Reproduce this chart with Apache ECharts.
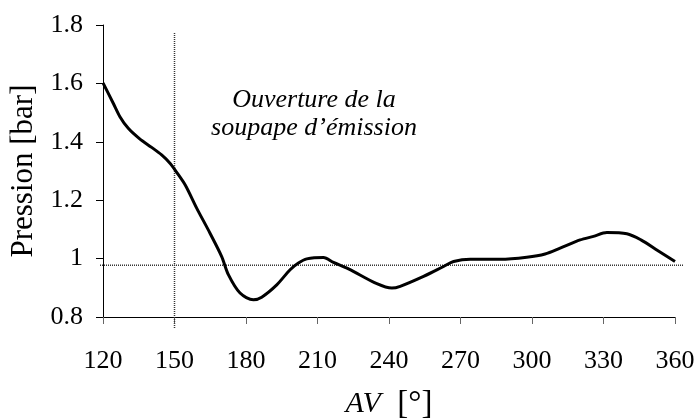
<!DOCTYPE html>
<html>
<head>
<meta charset="utf-8">
<script src="https://cdn.jsdelivr.net/npm/echarts@6/dist/echarts.min.js"></script>
<style>html,body{margin:0;padding:0;background:#fff;}#c{width:697px;height:419px;}</style>
</head>
<body>
<div id="c"></div>
<script>
// Crank angle AV [°]
var angles = [120,124.3,127.1,130.6,135.4,140.4,144.6,148.2,150.7,154.5,159.3,164.9,169.8,172.6,177.5,183.1,186.6,192.9,198.5,202.0,205.5,212.5,216.7,223.0,234.9,241.2,244.7,254.5,262.9,267.1,274.1,286.7,297.8,305.5,311.8,320.2,325.8,331.4,339.8,345.7,352.7,360];
// Pressure [bar]
var pressures = [1.602,1.532,1.486,1.446,1.410,1.381,1.355,1.326,1.298,1.252,1.173,1.087,1.007,0.945,0.882,0.859,0.868,0.910,0.962,0.985,0.999,1.004,0.987,0.965,0.914,0.899,0.905,0.939,0.973,0.990,0.998,0.998,1.005,1.016,1.036,1.064,1.076,1.089,1.085,1.064,1.028,0.990];
var xTicks = [120,150,180,210,240,270,300,330,360];
var yTicks = [0.8,1,1.2,1.4,1.6,1.8];
var refPressure = 0.978;   // horizontal reference line
var valveAngle = 150;      // exhaust valve opening
var annotationLines = ['Ouverture de la', 'soupape d\u2019émission'];

var FONT = '"Liberation Serif", "Times New Roman", serif';
var chart = echarts.init(document.getElementById('c'), null, {renderer: 'canvas'});

var curve = angles.map(function (a, i) { return [a, pressures[i]]; });

// extended overlay ranges (reference lines reach slightly beyond the plot area)
var x2min = 118.74, x2max = 363.36, y2min = 0.7634, y2max = 1.7754;

chart.setOption({
  animation: false,
  backgroundColor: '#fff',
  grid: [
    {left: 103, right: 22, top: 25, bottom: 102, containLabel: false, outerBoundsMode: 'none'},
    {left: 100, right: 14, top: 32, bottom: 91, containLabel: false, outerBoundsMode: 'none'}
  ],
  xAxis: [{
    gridIndex: 0, type: 'value', min: xTicks[0], max: xTicks[xTicks.length - 1], interval: 30,
    name: '{i|AV}{s|  [°]}', nameLocation: 'middle', nameGap: 71,
    nameTextStyle: {fontFamily: FONT, fontSize: 31, color: '#000',
      rich: {
        i: {fontFamily: FONT, fontSize: 30, fontStyle: 'italic', color: '#000'},
        s: {fontFamily: FONT, fontSize: 33, color: '#000'}
      }},
    axisLine: {show: true, onZero: false, lineStyle: {color: '#000', width: 1}},
    axisTick: {show: true, inside: false, length: 7, lineStyle: {color: '#666', width: 1}},
    axisLabel: {margin: 31, fontFamily: FONT, fontSize: 26, color: '#000'},
    splitLine: {show: false}
  }, {
    gridIndex: 1, type: 'value', min: x2min, max: x2max, show: false
  }],
  yAxis: [{
    gridIndex: 0, type: 'value', min: yTicks[0], max: yTicks[yTicks.length - 1], interval: 0.2,
    name: 'Pression [bar]', nameLocation: 'middle', nameGap: 60, nameRotate: 90,
    nameTextStyle: {fontFamily: FONT, fontSize: 31, color: '#000'},
    axisLine: {show: true, onZero: false, lineStyle: {color: '#000', width: 1}},
    axisTick: {show: true, inside: false, length: 7, lineStyle: {color: '#000', width: 1}},
    axisLabel: {margin: 20, fontFamily: FONT, fontSize: 26, color: '#000',
      formatter: function (v) { return String(Math.round(v * 10) / 10); }},
    splitLine: {show: false}
  }, {
    gridIndex: 1, type: 'value', min: y2min, max: y2max, show: false
  }],
  series: [{
    type: 'line', xAxisIndex: 1, yAxisIndex: 1, symbol: 'none', silent: true,
    data: [[x2min, refPressure], [x2max, refPressure]],
    lineStyle: {color: '#333', width: 1.5, type: [1, 1]}
  }, {
    type: 'line', xAxisIndex: 1, yAxisIndex: 1, symbol: 'none', silent: true,
    data: [[valveAngle, y2min], [valveAngle, y2max]],
    lineStyle: {color: '#333', width: 1.5, type: [1, 1]}
  }, {
    type: 'line', xAxisIndex: 0, yAxisIndex: 0, symbol: 'none', smooth: 0.3,
    data: curve, lineStyle: {color: '#000', width: 3}, z: 5
  }],
  graphic: [{
    type: 'text', x: 314, y: 86,
    style: {
      text: annotationLines.join('\n'), textAlign: 'center', textVerticalAlign: 'top',
      font: 'italic 26px ' + FONT, lineHeight: 28, fill: '#000'
    }
  }]
});
</script>
</body>
</html>
